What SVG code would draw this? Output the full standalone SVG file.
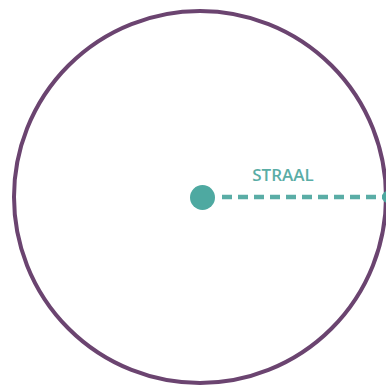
<svg xmlns="http://www.w3.org/2000/svg" width="386" height="388" viewBox="0 0 386 388">
<style>
.ring{fill:none;stroke:#6b4470;stroke-width:4}
.dash{fill:none;stroke:#5aada6;stroke-width:4.5;stroke-dasharray:10 6}
.teal{fill:#4ea9a1;stroke:none}
.lbl{font-family:"Open Sans","DejaVu Sans",sans-serif;font-weight:600;font-size:17px;fill:#5aada6}
</style>
<rect x="0" y="0" width="386" height="388" fill="#ffffff"/>
<g id="circle"><circle class="ring" cx="200" cy="197" r="186"/></g>
<g id="connectors"><path class="dash" d="M222 197 H386"/></g>
<g id="center"><circle class="teal" cx="202.5" cy="197.5" r="12.5"/></g>
<g id="edge"><circle class="teal" cx="388" cy="197" r="6"/></g>
<g id="label"><text class="lbl" x="283" y="181" text-anchor="middle">STRAAL</text></g>
</svg>
